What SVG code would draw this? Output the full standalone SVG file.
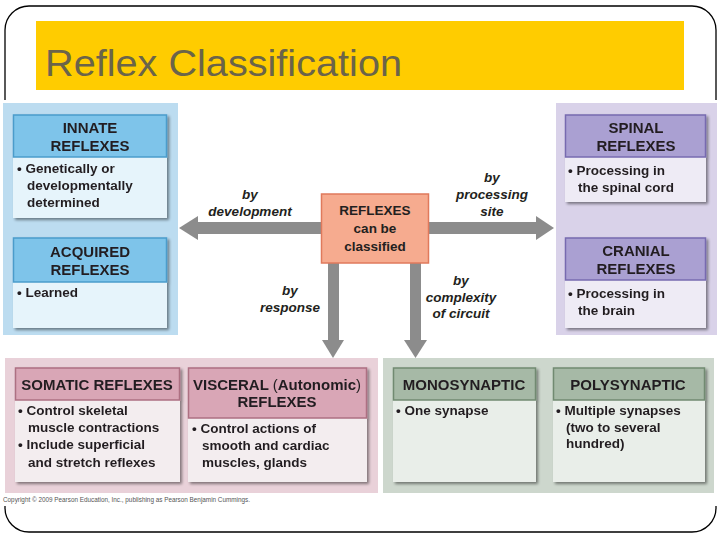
<svg xmlns="http://www.w3.org/2000/svg" width="720" height="540" viewBox="0 0 720 540">
<defs>
<style>
.t{font-family:"Liberation Sans",Arial,sans-serif;font-weight:bold;fill:#231f20}
.h{font-size:15px;text-anchor:middle}
.b{font-size:13.5px}
.c{font-size:13.5px;text-anchor:middle}
.lab{font-family:"Liberation Sans",Arial,sans-serif;font-weight:bold;font-style:italic;font-size:13.5px;fill:#231f20;text-anchor:middle}
.arr{fill:#8c8c8c}
.bluP{fill:#bcdcf0}.bluH{fill:#7ec4ea;stroke:#4b9ccb;stroke-width:1.5}.bluB{fill:#e6f4fb}
.purP{fill:#d9d2e9}.purH{fill:#aaa0d2;stroke:#776bb0;stroke-width:1.5}.purB{fill:#eeebf5}
.pnkP{fill:#e9d1d9}.pnkH{fill:#d9a6b6;stroke:#ad6f82;stroke-width:1.5}.pnkB{fill:#f3edef}
.grnP{fill:#cdd7cd}.grnH{fill:#a6b9a6;stroke:#718a71;stroke-width:1.5}.grnB{fill:#e9eee9}
</style>
<filter id="sh" x="-10%" y="-10%" width="125%" height="125%">
<feGaussianBlur in="SourceAlpha" stdDeviation="1.5"/>
<feOffset dx="1.5" dy="2" result="o"/>
<feComponentTransfer><feFuncA type="linear" slope="0.45"/></feComponentTransfer>
<feMerge><feMergeNode/><feMergeNode in="SourceGraphic"/></feMerge>
</filter>
</defs>
<rect width="720" height="540" fill="#fff"/>
<g id="frame">
<rect x="5" y="6" width="711" height="526" rx="24" fill="none" stroke="#000" stroke-width="1.3"/>
<rect x="0" y="100" width="720" height="406" fill="#fff"/>
</g>
<g id="title">
<rect x="36" y="21" width="648" height="69" fill="#ffcc00"/>
<text x="45" y="76" font-family="Liberation Sans,Arial,sans-serif" font-size="37" fill="#6b6449" textLength="357" lengthAdjust="spacingAndGlyphs">Reflex Classification</text>
</g>
<g id="panels">
<rect class="bluP" x="3" y="103" width="175" height="232"/>
<rect class="purP" x="556" y="103" width="161" height="232"/>
<rect class="pnkP" x="5" y="358" width="373" height="135"/>
<rect class="grnP" x="383" y="358" width="331" height="135"/>
</g>
<g id="connectors">
<rect class="arr" x="196" y="222" width="126" height="12"/>
<polygon class="arr" points="179,228 198,216 198,240"/>
<rect class="arr" x="428" y="222" width="110" height="12"/>
<polygon class="arr" points="554,228 536,216 536,240"/>
<rect class="arr" x="328" y="263" width="11" height="79"/>
<polygon class="arr" points="322,340 344,340 333,358"/>
<rect class="arr" x="410" y="263" width="11" height="79"/>
<polygon class="arr" points="404,340 427,340 415.5,358"/>
<text class="lab" x="250" y="199">by</text>
<text class="lab" x="250" y="216">development</text>
<text class="lab" x="492" y="182">by</text>
<text class="lab" x="492" y="199">processing</text>
<text class="lab" x="492" y="216">site</text>
<text class="lab" x="290" y="295">by</text>
<text class="lab" x="290" y="312">response</text>
<text class="lab" x="461" y="285">by</text>
<text class="lab" x="461" y="302">complexity</text>
<text class="lab" x="461" y="318">of circuit</text>
</g>
<g id="center">
<rect x="321.5" y="194" width="107" height="69" fill="#f6ab8f" stroke="#e07a5c" stroke-width="1.5"/>
<text class="t c" x="375" y="215">REFLEXES</text>
<text class="t c" x="375" y="233">can be</text>
<text class="t c" x="375" y="251">classified</text>
</g>
<g id="innate" filter="url(#sh)">
<rect class="bluB" x="13" y="157" width="154" height="61"/>
<rect class="bluH" x="13.5" y="115" width="153" height="42"/>
<text class="t h" x="90" y="133">INNATE</text>
<text class="t h" x="90" y="151">REFLEXES</text>
<text class="t b" x="17" y="173">• Genetically or</text>
<text class="t b" x="27" y="190">developmentally</text>
<text class="t b" x="27" y="207">determined</text>
</g>
<g id="acquired" filter="url(#sh)">
<rect class="bluB" x="13" y="282" width="154" height="46"/>
<rect class="bluH" x="13.5" y="238" width="153" height="44"/>
<text class="t h" x="90" y="257">ACQUIRED</text>
<text class="t h" x="90" y="275">REFLEXES</text>
<text class="t b" x="17" y="297">• Learned</text>
</g>
<g id="spinal" filter="url(#sh)">
<rect class="purB" x="565" y="157" width="141" height="45"/>
<rect class="purH" x="565.5" y="115" width="140" height="42"/>
<text class="t h" x="636" y="133">SPINAL</text>
<text class="t h" x="636" y="151">REFLEXES</text>
<text class="t b" x="568" y="175">• Processing in</text>
<text class="t b" x="578" y="192">the spinal cord</text>
</g>
<g id="cranial" filter="url(#sh)">
<rect class="purB" x="565" y="280" width="141" height="48"/>
<rect class="purH" x="565.5" y="238" width="140" height="42"/>
<text class="t h" x="636" y="256">CRANIAL</text>
<text class="t h" x="636" y="274">REFLEXES</text>
<text class="t b" x="568" y="298">• Processing in</text>
<text class="t b" x="578" y="315">the brain</text>
</g>
<g id="somatic" filter="url(#sh)">
<rect class="pnkB" x="15" y="400" width="165" height="82"/>
<rect class="pnkH" x="15.5" y="368" width="164" height="32"/>
<text class="t h" x="97" y="390">SOMATIC REFLEXES</text>
<text class="t b" x="18" y="415">• Control skeletal</text>
<text class="t b" x="28" y="432">muscle contractions</text>
<text class="t b" x="18" y="449">• Include superficial</text>
<text class="t b" x="28" y="467">and stretch reflexes</text>
</g>
<g id="visceral" filter="url(#sh)">
<rect class="pnkB" x="188" y="418" width="179" height="64"/>
<rect class="pnkH" x="188.5" y="368" width="178" height="50"/>
<text class="t h" x="277" y="390">VISCERAL <tspan font-weight="normal">(</tspan>Autonomic<tspan font-weight="normal">)</tspan></text>
<text class="t h" x="277" y="407">REFLEXES</text>
<text class="t b" x="192" y="433">• Control actions of</text>
<text class="t b" x="202" y="450">smooth and cardiac</text>
<text class="t b" x="202" y="467">muscles, glands</text>
</g>
<g id="mono" filter="url(#sh)">
<rect class="grnB" x="393" y="400" width="143" height="82"/>
<rect class="grnH" x="393.5" y="368" width="142" height="32"/>
<text class="t h" x="464" y="390">MONOSYNAPTIC</text>
<text class="t b" x="396" y="415">• One synapse</text>
</g>
<g id="poly" filter="url(#sh)">
<rect class="grnB" x="553" y="400" width="152" height="82"/>
<rect class="grnH" x="553.5" y="368" width="151" height="32"/>
<text class="t h" x="628" y="390">POLYSYNAPTIC</text>
<text class="t b" x="556" y="415">• Multiple synapses</text>
<text class="t b" x="566" y="432">(two to several</text>
<text class="t b" x="566" y="448">hundred)</text>
</g>
<text x="3" y="502" font-family="Liberation Sans,Arial,sans-serif" font-size="7" fill="#555" textLength="247" lengthAdjust="spacingAndGlyphs">Copyright © 2009 Pearson Education, Inc., publishing as Pearson Benjamin Cummings.</text>
</svg>
